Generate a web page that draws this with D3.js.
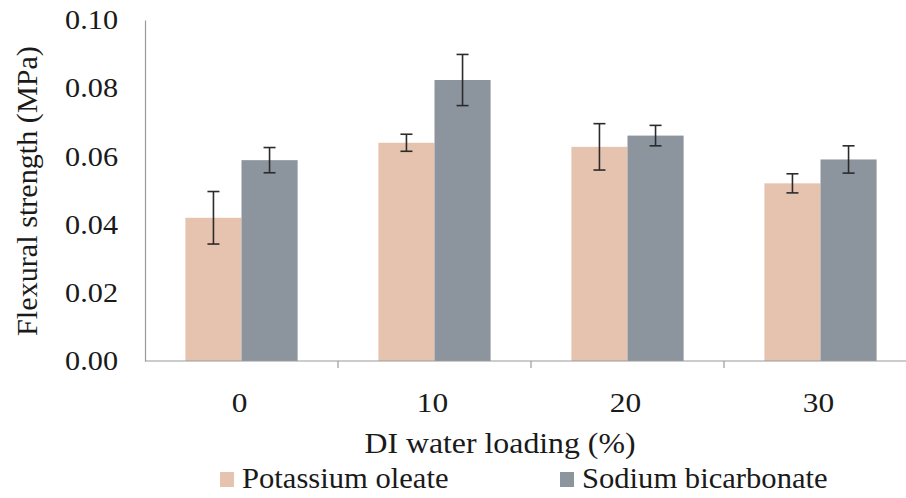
<!DOCTYPE html>
<html>
<head>
<meta charset="utf-8">
<script src="https://cdn.jsdelivr.net/npm/d3@7"></script>
<style>
  body { margin: 0; background: #fff; }
  svg text { font-family: "Liberation Serif", Tinos, "Times New Roman", Times, "DejaVu Serif", serif !important; fill: #1a1a1a; }
</style>
</head>
<body>
<svg id="chart" width="906" height="498"></svg>
<script>
// data
const categories = ['0', '10', '20', '30']
const seriesNames = ['Potassium oleate', 'Sodium bicarbonate']
const potassiumOleate = [0.0420, 0.0640, 0.0628, 0.0521]
const potassiumErr = [0.0077, 0.0025, 0.0068, 0.0028]
const sodiumBicarbonate = [0.0589, 0.0824, 0.0661, 0.0591]
const sodiumErr = [0.0037, 0.0075, 0.0030, 0.0040]
const yTicks = [0, 0.02, 0.04, 0.06, 0.08, 0.10]
const colors = ['#e6c3ae', '#8c959d']

const svg = d3.select('#chart')
const margin = { left: 145, top: 20, bottom: 137 }
const bandW = 193
const height = 498 - margin.top - margin.bottom

const x = d3.scaleBand()
  .domain(categories)
  .range([margin.left, margin.left + bandW * categories.length])
  .paddingInner(0).paddingOuter(0)

const xSub = d3.scaleBand()
  .domain(seriesNames)
  .range([0, bandW])
  .paddingInner(0)
  .paddingOuter(0.72)

const y = d3.scaleLinear()
  .domain([0, 0.10])
  .range([margin.top + height, margin.top])

const rows = categories.map((c, i) => ({
  cat: c,
  vals: [
    { name: seriesNames[0], v: potassiumOleate[i], e: potassiumErr[i], color: colors[0] },
    { name: seriesNames[1], v: sodiumBicarbonate[i], e: sodiumErr[i], color: colors[1] }
  ]
}))

// the scanned figure is a little wider than plain Times, so stretch text a bit
function stretch (sel, factor) {
  sel.each(function () {
    const w = this.getComputedTextLength()
    d3.select(this).attr('textLength', w * factor).attr('lengthAdjust', 'spacingAndGlyphs')
  })
}

// bars
const groups = svg.append('g').selectAll('g')
  .data(rows)
  .enter().append('g')
  .attr('transform', d => 'translate(' + x(d.cat) + ',0)')

groups.selectAll('rect')
  .data(d => d.vals)
  .enter().append('rect')
  .attr('x', d => xSub(d.name))
  .attr('width', xSub.bandwidth())
  .attr('y', d => y(d.v))
  .attr('height', d => y(0) - y(d.v))
  .attr('fill', d => d.color)

// error bars
const eb = groups.selectAll('g.err')
  .data(d => d.vals)
  .enter().append('g')
  .attr('class', 'err')
  .attr('stroke', '#2b2b2b')
  .attr('stroke-width', 1.6)
eb.append('line')
  .attr('x1', d => xSub(d.name) + xSub.bandwidth() / 2)
  .attr('x2', d => xSub(d.name) + xSub.bandwidth() / 2)
  .attr('y1', d => y(d.v + d.e))
  .attr('y2', d => y(d.v - d.e))
eb.selectAll('line.cap')
  .data(d => [d.v + d.e, d.v - d.e].map(t => ({ t, cx: xSub(d.name) + xSub.bandwidth() / 2 })))
  .enter().append('line')
  .attr('class', 'cap')
  .attr('x1', d => d.cx - 6)
  .attr('x2', d => d.cx + 6)
  .attr('y1', d => y(d.t))
  .attr('y2', d => y(d.t))

// x axis (ticks between categories)
const xAxis = svg.append('g')
  .attr('transform', 'translate(0,' + y(0) + ')')
xAxis.append('line')
  .attr('x1', margin.left).attr('x2', 906)
  .attr('stroke', '#9a9a9a').attr('stroke-width', 1.2)
xAxis.selectAll('line.tick')
  .data(categories.slice(1))
  .enter().append('line')
  .attr('class', 'tick')
  .attr('x1', d => x(d)).attr('x2', d => x(d))
  .attr('y1', 0).attr('y2', 7)
  .attr('stroke', '#9a9a9a').attr('stroke-width', 1.2)
xAxis.selectAll('text')
  .data(categories)
  .enter().append('text')
  .attr('x', d => x(d) + x.bandwidth() / 2 - 2)
  .attr('y', 51)
  .attr('text-anchor', 'middle')
  .style('font-size', '28px')
  .text(d => d)
  .call(stretch, 1.12)

// y axis
const yAxis = d3.axisLeft(y)
  .tickValues(yTicks)
  .tickFormat(d3.format('.2f'))
  .tickSize(0)
  .tickPadding(27)
const yg = svg.append('g')
  .attr('transform', 'translate(' + margin.left + ',0)')
  .call(yAxis)
yg.attr('font-family', null).attr('font-size', null)
yg.select('.domain').attr('stroke', '#9a9a9a').attr('stroke-width', 1.2)
yg.selectAll('text')
  .style('font-size', '27px')
  .attr('fill', '#1a1a1a')
  .call(stretch, 1.12)

// axis titles
svg.append('text')
  .attr('transform', 'translate(37,191) rotate(-90)')
  .attr('text-anchor', 'middle')
  .style('font-size', '29px')
  .text('Flexural strength (MPa)')
  .call(stretch, 1.04)

svg.append('text')
  .attr('x', 500)
  .attr('y', 453)
  .attr('text-anchor', 'middle')
  .style('font-size', '30px')
  .text('DI water loading (%)')
  .call(stretch, 1.06)

// legend
const legendX = [220, 560]
const legend = svg.append('g').selectAll('g')
  .data(seriesNames)
  .enter().append('g')
  .attr('transform', (d, i) => 'translate(' + legendX[i] + ',0)')
legend.append('rect')
  .attr('x', 0).attr('y', 472)
  .attr('width', 14).attr('height', 15)
  .attr('fill', (d, i) => colors[i])
legend.append('text')
  .attr('x', 22).attr('y', 488)
  .style('font-size', '30px')
  .text(d => d)
  .call(stretch, 1.02)
</script>
</body>
</html>
